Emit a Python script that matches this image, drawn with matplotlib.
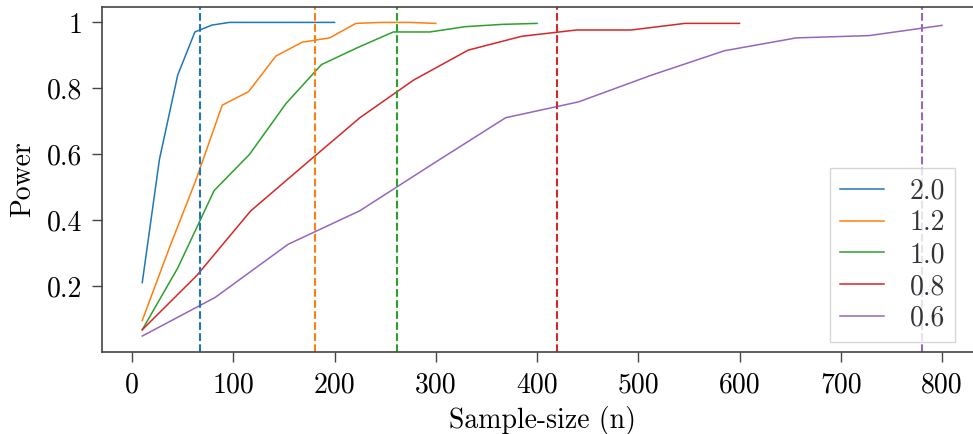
import matplotlib
matplotlib.use("Agg")
import matplotlib.pyplot as plt

# tamaños de muestra y potencia estimada para cada tamaño de efecto
n_20 = [10, 27, 45, 62, 79, 96, 114, 131, 148, 165, 183, 200]
pot_20 = [0.211, 0.585, 0.840, 0.971, 0.992, 1.0, 1.0, 1.0, 1.0, 1.0, 1.0, 1.0]

n_12 = [10, 36, 63, 89, 115, 142, 168, 195, 221, 247, 274, 300]
pot_12 = [0.096, 0.31, 0.522, 0.749, 0.790, 0.898, 0.940, 0.953, 0.997, 1.0, 1.0, 0.997]

n_10 = [10, 45, 81, 116, 152, 187, 223, 258, 294, 329, 365, 400]
pot_10 = [0.068, 0.255, 0.490, 0.600, 0.754, 0.872, 0.924, 0.971, 0.971, 0.987, 0.994, 0.997]

n_08 = [10, 64, 117, 171, 225, 278, 332, 385, 439, 493, 546, 600]
pot_08 = [0.068, 0.233, 0.428, 0.57, 0.711, 0.825, 0.916, 0.958, 0.977, 0.977, 0.997, 0.997]

n_06 = [10, 82, 154, 225, 297, 369, 441, 513, 585, 656, 728, 800]
pot_06 = [0.049, 0.166, 0.327, 0.429, 0.571, 0.711, 0.759, 0.84, 0.914, 0.953, 0.960, 0.991]

efectos = ["2.0", "1.2", "1.0", "0.8", "0.6"]
# tamaño de muestra requerido (lineas verticales)
n_requerido = [67, 181, 262, 420, 780]

xticks = [0, 100, 200, 300, 400, 500, 600, 700, 800]
yticks = [0.2, 0.4, 0.6, 0.8, 1.0]
ytick_labels = ["0.2", "0.4", "0.6", "0.8", "1"]

colores = ["tab:blue", "tab:orange", "tab:green", "tab:red", "tab:purple"]

plt.rcParams["font.family"] = ["cmr10", "DejaVu Serif"]
plt.rcParams["font.size"] = 20
plt.rcParams["axes.unicode_minus"] = False

fig = plt.figure(figsize=(9.73, 4.34), dpi=100)
ax = fig.add_axes([0.1051, 0.1896, 0.9041, 0.7949])

series = [(n_20, pot_20), (n_12, pot_12), (n_10, pot_10), (n_08, pot_08), (n_06, pot_06)]
for (xs, ys), lab, col in zip(series, efectos, colores):
    ax.plot(xs, ys, color=col, lw=1.1, label=lab)

for xv, col in zip(n_requerido, colores):
    ax.axvline(xv, color=col, ls="--", lw=1.5)

ax.set_xticks(xticks)
ax.set_yticks(yticks)
ax.set_yticklabels(ytick_labels)
ax.tick_params(length=7.5, width=1.0, color="#444444", pad=7)
for sp in ax.spines.values():
    sp.set_color("#444444")
    sp.set_linewidth(1.2)

ax.set_xlabel("Sample-size (n)", labelpad=5.5)
ax.set_ylabel("Power", labelpad=8)

leg = ax.legend(loc="lower right", bbox_to_anchor=(0.969, 0.029), borderaxespad=0,
                handlelength=1.6, handletextpad=0.9, labelspacing=0.2,
                borderpad=0.35, fancybox=False, edgecolor="#cccccc")
for t in leg.get_texts():
    t.set_color("#333333")

fig.savefig("out.png", dpi=100)
